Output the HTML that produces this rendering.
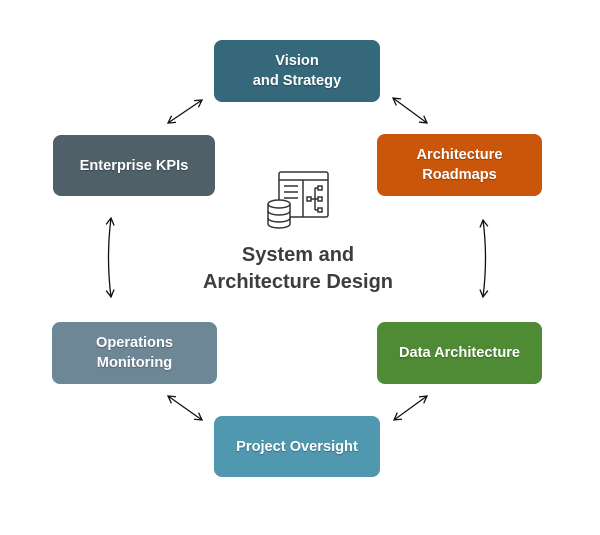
<!DOCTYPE html>
<html><head><style>
body{margin:0;width:600px;height:535px;background:#fff;position:relative;font-family:"Liberation Sans",sans-serif;overflow:hidden}
.b{position:absolute;border-radius:8px;color:#fff;font-weight:bold;font-size:14.6px;display:flex;align-items:center;justify-content:center;text-align:center;line-height:20px;text-shadow:0 1px 1px rgba(0,0,0,.3)}
.t{position:absolute;left:150px;width:296px;top:242px;text-align:center;font-weight:bold;font-size:20px;line-height:27px;color:#3d3d3d}
</style></head><body>
<div class="b" style="left:214px;top:40px;width:166px;height:62px;background:#34687a">Vision<br>and Strategy</div>
<div class="b" style="left:53px;top:135px;width:162px;height:61px;background:#4f6069">Enterprise KPIs</div>
<div class="b" style="left:377px;top:134px;width:165px;height:62px;background:#c9560a">Architecture<br>Roadmaps</div>
<div class="b" style="left:52px;top:322px;width:165px;height:62px;background:#6e8796">Operations<br>Monitoring</div>
<div class="b" style="left:377px;top:322px;width:165px;height:62px;background:#4f8a35">Data Architecture</div>
<div class="b" style="left:214px;top:416px;width:166px;height:61px;background:#4f98b0">Project Oversight</div>
<div class="t">System and<br>Architecture Design</div>
<svg width="600" height="535" style="position:absolute;left:0;top:0" fill="none" stroke="#111" stroke-width="1.3">
<defs><marker id="a" markerWidth="10" markerHeight="10" refX="8" refY="5" orient="auto-start-reverse" markerUnits="userSpaceOnUse"><path d="M1,1 L8,5 L1,9" fill="none" stroke="#111" stroke-width="1.3"/></marker></defs>
<g marker-start="url(#a)" marker-end="url(#a)">
<path d="M168,123 L202,100"/>
<path d="M393,98 L427,123"/>
<path d="M111,218 Q106,258 111,297"/>
<path d="M483,220 Q488,258 483,297"/>
<path d="M168,396 L202,420"/>
<path d="M394,420 L427,396"/>
</g>
<g stroke="#333" stroke-width="1.5">
<rect x="279" y="172" width="49" height="45" rx="2"/>
<line x1="279" y1="180" x2="328" y2="180"/>
<line x1="303" y1="180" x2="303" y2="217"/>
<line x1="284" y1="186" x2="298" y2="186"/><line x1="284" y1="192" x2="298" y2="192"/><line x1="284" y1="198" x2="298" y2="198"/>
<rect x="307" y="197" width="4" height="4"/><rect x="318" y="186" width="4" height="4"/><rect x="318" y="197" width="4" height="4"/><rect x="318" y="208" width="4" height="4"/>
<path d="M311,199 H315 M315,188 V210 M315,188 H318 M315,199 H318 M315,210 H318"/>
<path d="M268,204 v20 a11,4 0 0 0 22,0 v-20" fill="#fff"/>
<ellipse cx="279" cy="204" rx="11" ry="4" fill="#fff"/>
<path d="M268,211 a11,4 0 0 0 22,0 M268,218 a11,4 0 0 0 22,0"/>
</g>
</svg>
</body></html>
